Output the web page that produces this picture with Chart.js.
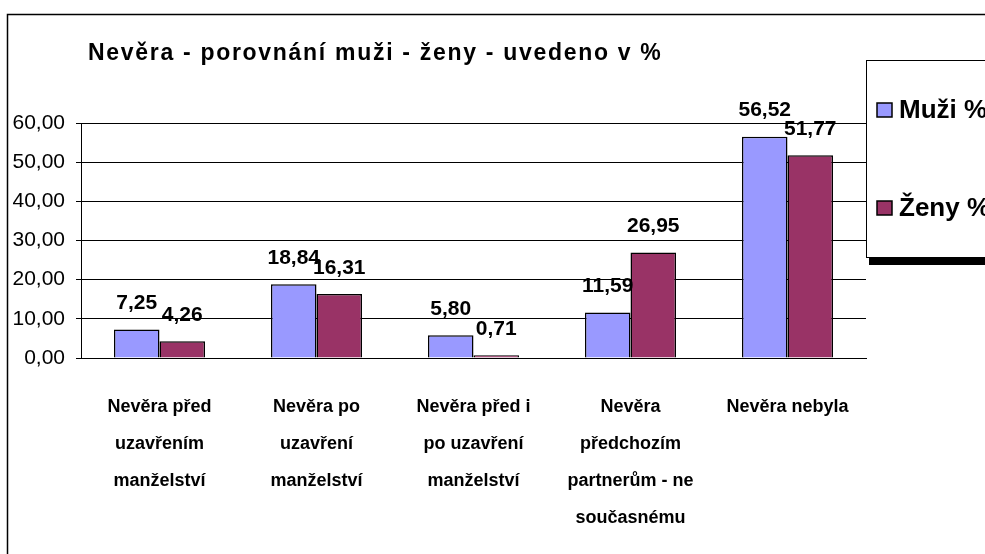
<!DOCTYPE html>
<html>
<head>
<meta charset="utf-8">
<script src="https://cdn.jsdelivr.net/npm/chart.js@4.4.1/dist/chart.umd.min.js"></script>
<style>
  html, body { margin: 0; padding: 0; background: #fff; }
  #wrap { width: 985px; height: 554px; }
</style>
</head>
<body>
<div id="wrap"><canvas id="barChart" width="985" height="554"></canvas></div>
<script>
const chartTitle = 'Nevěra - porovnání muži - ženy - uvedeno v %';
const categories = [
    ['Nevěra před', 'uzavřením', 'manželství'],
    ['Nevěra po', 'uzavření', 'manželství'],
    ['Nevěra před i', 'po uzavření', 'manželství'],
    ['Nevěra', 'předchozím', 'partnerům - ne', 'současnému'],
    ['Nevěra nebyla']
];
const seriesNames = ['Muži %', 'Ženy %'];
const menValues = [7.25, 18.84, 5.80, 11.59, 56.52];
const womenValues = [4.26, 16.31, 0.71, 26.95, 51.77];
const seriesColors = ['#9999FF', '#993366'];
const yTicks = [0, 10, 20, 30, 40, 50, 60];

const FONT = "'Liberation Sans', Arial, sans-serif";
const fmt = v => v.toFixed(2).replace('.', ',');

// title, outer frame and the Excel-like legend box
const decorPlugin = {
    id: 'decor',
    afterDraw(chart) {
        const ctx = chart.ctx;
        ctx.save();
        // outer frame (cut off right/bottom)
        ctx.strokeStyle = '#000';
        ctx.lineWidth = 1.5;
        ctx.beginPath();
        ctx.moveTo(7.5, 560);
        ctx.lineTo(7.5, 14.5);
        ctx.lineTo(990, 14.5);
        ctx.stroke();

        // title
        ctx.fillStyle = '#000';
        ctx.font = 'bold 23px ' + FONT;
        ctx.letterSpacing = '1.7px';
        ctx.textBaseline = 'alphabetic';
        ctx.textAlign = 'left';
        ctx.fillText(chartTitle, 88, 60);
        ctx.letterSpacing = '0px';

        // legend shadow + box
        ctx.fillStyle = '#000';
        ctx.fillRect(869, 258, 130, 7);
        ctx.fillStyle = '#fff';
        ctx.fillRect(866, 60, 130, 198);
        ctx.strokeStyle = '#000';
        ctx.lineWidth = 1;
        ctx.strokeRect(866.5, 60.5, 130, 197);

        const rows = [110, 208];
        ctx.font = 'bold 26px ' + FONT;
        ctx.textBaseline = 'middle';
        seriesNames.forEach((name, i) => {
            const y = rows[i];
            ctx.fillStyle = seriesColors[i];
            ctx.fillRect(877, y - 7, 15, 14);
            ctx.lineWidth = 1.5;
            ctx.strokeRect(877, y - 7, 15, 14);
            ctx.fillStyle = '#000';
            ctx.fillText(name, 899, y + 1);
        });
        ctx.restore();
    }
};

// value labels above each bar
const valueLabels = {
    id: 'valueLabels',
    afterDatasetsDraw(chart) {
        const ctx = chart.ctx;
        ctx.save();
        ctx.font = 'bold 21px ' + FONT;
        ctx.fillStyle = '#000';
        ctx.textAlign = 'center';
        ctx.textBaseline = 'middle';
        chart.data.datasets.forEach((ds, di) => {
            chart.getDatasetMeta(di).data.forEach((bar, i) => {
                ctx.fillText(fmt(ds.data[i]), bar.x, bar.y - 26);
            });
        });
        ctx.restore();
    }
};

const ctx = document.getElementById('barChart').getContext('2d');
const barChart = new Chart(ctx, {
    type: 'bar',
    data: {
        labels: categories,
        datasets: [{
            label: seriesNames[0],
            data: menValues,
            backgroundColor: seriesColors[0],
            borderColor: '#000',
            borderWidth: 1.5
        }, {
            label: seriesNames[1],
            data: womenValues,
            backgroundColor: seriesColors[1],
            borderColor: '#000',
            borderWidth: 1.5
        }]
    },
    options: {
        responsive: false,
        animation: false,
        layout: { padding: { left: 0, right: 119, top: 123, bottom: 0 } },
        plugins: {
            legend: { display: false },
            title: { display: false },
            tooltip: { enabled: false }
        },
        datasets: {
            bar: { categoryPercentage: 0.58, barPercentage: 1 }
        },
        scales: {
            x: {
                grid: { display: false, drawTicks: false },
                border: { display: true, color: '#000', width: 1 },
                ticks: {
                    color: '#000',
                    font: { family: FONT, size: 18, weight: 'bold', lineHeight: '37px' },
                    padding: 31,
                    maxRotation: 0,
                    autoSkip: false
                },
                afterFit(scale) { scale.height = 196; }
            },
            y: {
                min: 0,
                max: 60,
                afterBuildTicks(scale) { scale.ticks = yTicks.map(v => ({ value: v })); },
                grid: { color: '#000', lineWidth: 1, tickLength: 5, drawTicks: true },
                border: { display: true, color: '#000', width: 1 },
                ticks: {
                    color: '#000',
                    font: { family: FONT, size: 21 },
                    padding: 11,
                    callback: v => fmt(v)
                },
                afterFit(scale) { scale.width = 81; }
            }
        }
    },
    plugins: [valueLabels, decorPlugin]
});
</script>
</body>
</html>
